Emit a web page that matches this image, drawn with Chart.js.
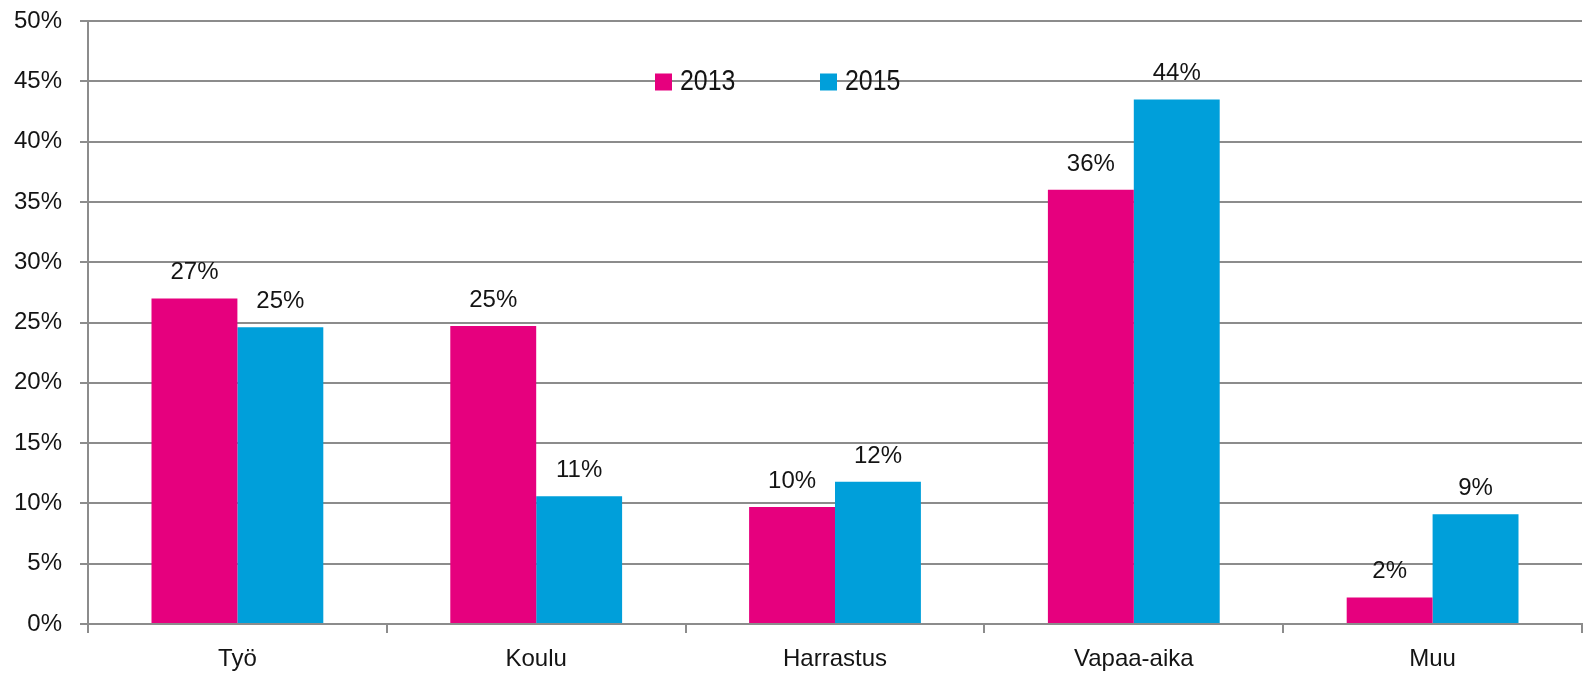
<!DOCTYPE html>
<html>
<head>
<meta charset="utf-8">
<script src="https://cdn.jsdelivr.net/npm/chart.js@4"></script>
<style>
  html, body { margin: 0; padding: 0; background: #fff; }
  #wrap { width: 1583px; height: 675px; }
</style>
</head>
<body>
<div id="wrap"><canvas id="usageChart" width="1583" height="675"></canvas></div>
<script>
// values (percent)
const categories = ['Työ', 'Koulu', 'Harrastus', 'Vapaa-aika', 'Muu'];
const seriesNames = ['2013', '2015'];
const values2013 = [27.0, 24.7, 9.7, 36.0, 2.2];
const values2015 = [24.6, 10.6, 11.8, 43.5, 9.1];
const yTicks = [0, 5, 10, 15, 20, 25, 30, 35, 40, 45, 50];

const PINK = '#e6007e';
const BLUE = '#009fda';
const GRID = '#8c8c8c';
const TEXT = '#141414';
const FONT = '"Liberation Sans", Arial, sans-serif';

// percentage labels above each bar
const barLabels = {
    id: 'barLabels',
    afterDatasetsDraw(chart) {
        const ctx = chart.ctx;
        ctx.save();
        ctx.font = '24px ' + FONT;
        ctx.fillStyle = TEXT;
        ctx.textAlign = 'center';
        ctx.textBaseline = 'alphabetic';
        chart.data.datasets.forEach((ds, i) => {
            chart.getDatasetMeta(i).data.forEach((bar, j) => {
                ctx.fillText(Math.round(ds.data[j]) + '%', bar.x, bar.y - 19);
            });
        });
        ctx.restore();
    }
};

// legend sits inside the plot, on the 45% line; narrow type like the original
const innerLegend = {
    id: 'innerLegend',
    afterDraw(chart) {
        const ctx = chart.ctx;
        const xs = [655, 820];
        ctx.save();
        ctx.font = '30px ' + FONT;
        ctx.textBaseline = 'alphabetic';
        ctx.textAlign = 'left';
        chart.data.datasets.forEach((ds, i) => {
            ctx.fillStyle = ds.backgroundColor;
            ctx.fillRect(xs[i], 73.5, 17, 17);
            ctx.fillStyle = TEXT;
            ctx.save();
            ctx.translate(xs[i] + 25, 90);
            ctx.scale(0.83, 1);
            ctx.fillText(ds.label, 0, 0);
            ctx.restore();
        });
        ctx.restore();
    }
};

const ctx = document.getElementById('usageChart').getContext('2d');
new Chart(ctx, {
    type: 'bar',
    data: {
        labels: categories,
        datasets: [
            { label: seriesNames[0], data: values2013, backgroundColor: PINK },
            { label: seriesNames[1], data: values2015, backgroundColor: BLUE }
        ]
    },
    options: {
        responsive: false,
        animation: false,
        layout: { padding: { top: 21, right: 1, left: 0, bottom: 0 } },
        datasets: {
            bar: { categoryPercentage: 0.575, barPercentage: 1.0 }
        },
        plugins: {
            legend: { display: false },
            tooltip: { enabled: false }
        },
        scales: {
            x: {
                grid: {
                    display: true,
                    offset: true,
                    drawOnChartArea: false,
                    drawTicks: true,
                    tickLength: 9,
                    color: GRID,
                    lineWidth: 2
                },
                border: { color: GRID, width: 2 },
                ticks: {
                    font: { family: FONT, size: 24 },
                    color: TEXT,
                    padding: 12,
                    maxRotation: 0
                },
                afterFit(axis) {
                    axis.height = 51;
                    axis.paddingLeft = 0;
                    axis.paddingRight = 0;
                }
            },
            y: {
                min: 0,
                max: 50,
                afterBuildTicks(axis) { axis.ticks = yTicks.map(v => ({ value: v })); },
                grid: {
                    color: GRID,
                    lineWidth: 2,
                    tickLength: 8
                },
                border: { color: GRID, width: 2 },
                ticks: {
                    font: { family: FONT, size: 24 },
                    color: TEXT,
                    padding: 18,
                    callback: v => v + '%'
                },
                afterFit(axis) {
                    axis.width = 88;
                    axis.paddingTop = 0;
                    axis.paddingBottom = 0;
                }
            }
        }
    },
    plugins: [barLabels, innerLegend]
});
</script>
</body>
</html>
